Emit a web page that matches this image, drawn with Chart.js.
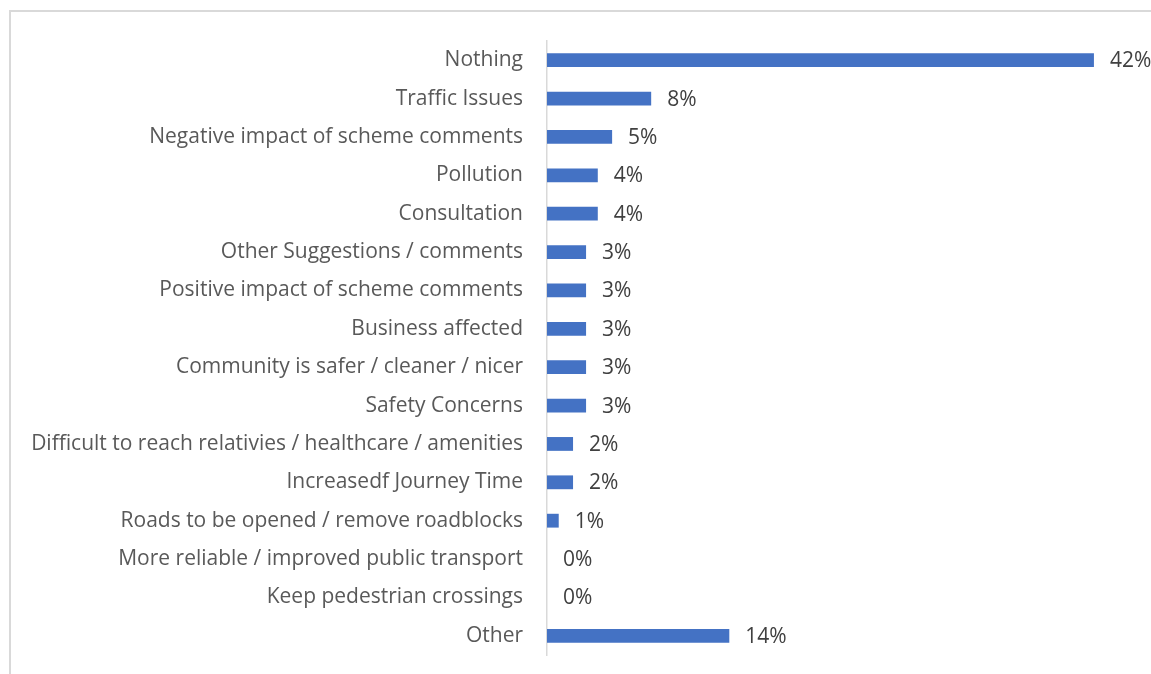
<!DOCTYPE html>
<html>
<head>
<meta charset="utf-8">
<script src="https://cdn.jsdelivr.net/npm/chart.js@4"></script>
<style>
  html, body { margin: 0; padding: 0; background: #fff; overflow: hidden; }
  #wrap { position: relative; width: 1151px; height: 674px; overflow: hidden; }
  #frame { position: absolute; left: 9px; top: 10px; width: 1160px; height: 700px; border-left: 2px solid #d9d9d9; border-top: 2px solid #d9d9d9; box-sizing: border-box; }
  canvas { position: absolute; left: 0; top: 0; }
</style>
</head>
<body>
<div id="wrap">
  <div id="frame"></div>
  <canvas id="c" width="1151" height="674"></canvas>
</div>
<script>
const categories = [
  "Nothing",
  "Traffic Issues",
  "Negative impact of scheme comments",
  "Pollution",
  "Consultation",
  "Other Suggestions / comments",
  "Positive impact of scheme comments",
  "Business affected",
  "Community is safer / cleaner / nicer",
  "Safety Concerns",
  "Difficult to reach relativies / healthcare / amenities",
  "Increasedf Journey Time",
  "Roads to be opened / remove roadblocks",
  "More reliable / improved public transport",
  "Keep pedestrian crossings",
  "Other"
];
const values = [42, 8, 5, 3.9, 3.9, 3, 3, 3, 3, 3, 2, 2, 0.9, 0, 0, 14];
const valueLabels = ["42%", "8%", "5%", "4%", "4%", "3%", "3%", "3%", "3%", "3%", "2%", "2%", "1%", "0%", "0%", "14%"];

const FONT = "'Open Sans', sans-serif";

const labelPlugin = {
  id: 'valueLabels',
  afterDatasetsDraw(chart) {
    const ctx = chart.ctx;
    const meta = chart.getDatasetMeta(0);
    ctx.save();
    ctx.font = "21px " + FONT;
    ctx.fillStyle = "#404040";
    ctx.textAlign = "left";
    ctx.textBaseline = "middle";
    meta.data.forEach((bar, i) => {
      ctx.fillText(valueLabels[i], bar.x + 16, bar.y + 1);
    });
    ctx.restore();
  }
};

new Chart(document.getElementById('c'), {
  type: 'bar',
  data: {
    labels: categories,
    datasets: [{
      data: values,
      backgroundColor: '#4472C4',
      borderWidth: 0,
      barPercentage: 0.72,
      categoryPercentage: 0.5
    }]
  },
  options: {
    indexAxis: 'y',
    responsive: false,
    animation: false,
    layout: { padding: { left: 0, right: 18, top: 41, bottom: 19 } },
    plugins: { legend: { display: false }, tooltip: { enabled: false } },
    scales: {
      x: { display: false, min: 0, max: 45 },
      y: {
        grid: { display: false, drawTicks: false },
        border: { display: true, color: '#d9d9d9', width: 1.5 },
        ticks: { color: '#595959', font: { family: FONT, size: 21 }, padding: 24, autoSkip: false },
        afterFit(scale) { scale.width = 547; scale.paddingTop = 0; scale.paddingBottom = 0; }
      }
    }
  },
  plugins: [labelPlugin]
});
</script>
</body>
</html>
